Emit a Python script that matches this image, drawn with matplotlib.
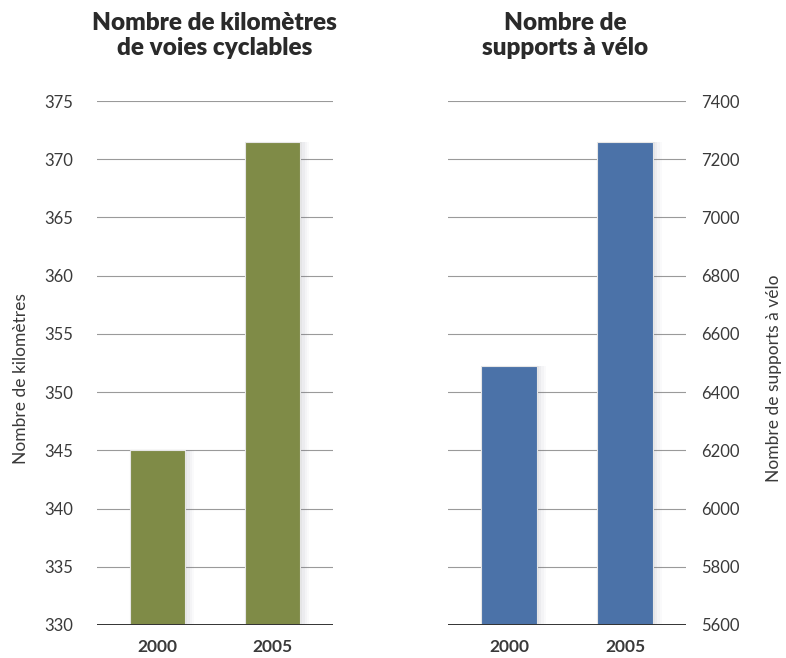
import matplotlib.pyplot as plt

years = ['2000', '2005']
km_values = [345, 371.5]
supports_values = [6490, 7258]

km_ticks = [330, 335, 340, 345, 350, 355, 360, 365, 370, 375]
supports_ticks = [5600, 5800, 6000, 6200, 6400, 6600, 6800, 7000, 7200, 7400]

green = '#7f8b47'
blue = '#4b72a8'
grid_col = '#9a9a9a'
text_col = '#3a3a3a'

plt.rcParams['font.family'] = ['Lato', 'DejaVu Sans']

fig = plt.figure(figsize=(7.86, 6.58), dpi=100)
fig.patch.set_facecolor('white')

ax1 = fig.add_axes([0.1234, 0.0502, 0.3003, 0.7963])
ax2 = fig.add_axes([0.5700, 0.0502, 0.3028, 0.7963])


def draw_panel(ax, values, ticks, color, side):
    x = list(range(len(values)))
    base = ticks[0]
    heights = [v - base for v in values]
    # soft shadow on the right of the bars
    for i, a in enumerate([0.06, 0.05, 0.04, 0.03]):
        off = 0.02 + i * 0.02
        ax.bar([xi + off for xi in x], heights, width=0.478, bottom=base,
               color='#6a6a80', alpha=a, zorder=1, linewidth=0)
    ax.bar(x, heights, width=0.478, bottom=base, color=color, zorder=3,
           edgecolor='#e6e6e6', linewidth=0.8)
    ax.set_xlim(-0.525, 1.525)
    ax.set_ylim(ticks[0], ticks[-1])
    ax.set_yticks(ticks)
    for t in ticks[1:]:
        ax.axhline(t, color=grid_col, linewidth=0.8, zorder=0)
    ax.axhline(ticks[0], color='#333333', linewidth=1.4, zorder=4)
    for s in ax.spines.values():
        s.set_visible(False)
    ax.set_xticks(x)
    ax.set_xticklabels(years, fontsize=12.5, fontweight='bold', color=text_col)
    ax.tick_params(axis='x', length=0, pad=10)
    if side == 'left':
        ax.tick_params(axis='y', length=0, pad=17, labelsize=12, labelcolor=text_col)
    else:
        ax.yaxis.tick_right()
        ax.yaxis.set_label_position('right')
        ax.tick_params(axis='y', length=0, pad=11, labelsize=12, labelcolor=text_col)
    ax.set_facecolor('none')


draw_panel(ax1, km_values, km_ticks, green, 'left')
draw_panel(ax2, supports_values, supports_ticks, blue, 'right')

ax1.set_ylabel('Nombre de kilomètres', fontsize=12.5, color=text_col)
ax1.yaxis.set_label_coords(-0.29, 0.47)
ax2.set_ylabel('Nombre de supports à vélo', fontsize=12.5, color=text_col,
               rotation=90)
ax2.yaxis.set_label_coords(1.335, 0.47)

fig.text(0.273, 0.946, 'Nombre de kilomètres\nde voies cyclables', ha='center',
         va='center', fontsize=17.5, fontweight='heavy', color='#2a2a2a',
         linespacing=1.15)
fig.text(0.719, 0.946, 'Nombre de\nsupports à vélo', ha='center',
         va='center', fontsize=17.5, fontweight='heavy', color='#2a2a2a',
         linespacing=1.15)

fig.savefig('out.png', dpi=100)
